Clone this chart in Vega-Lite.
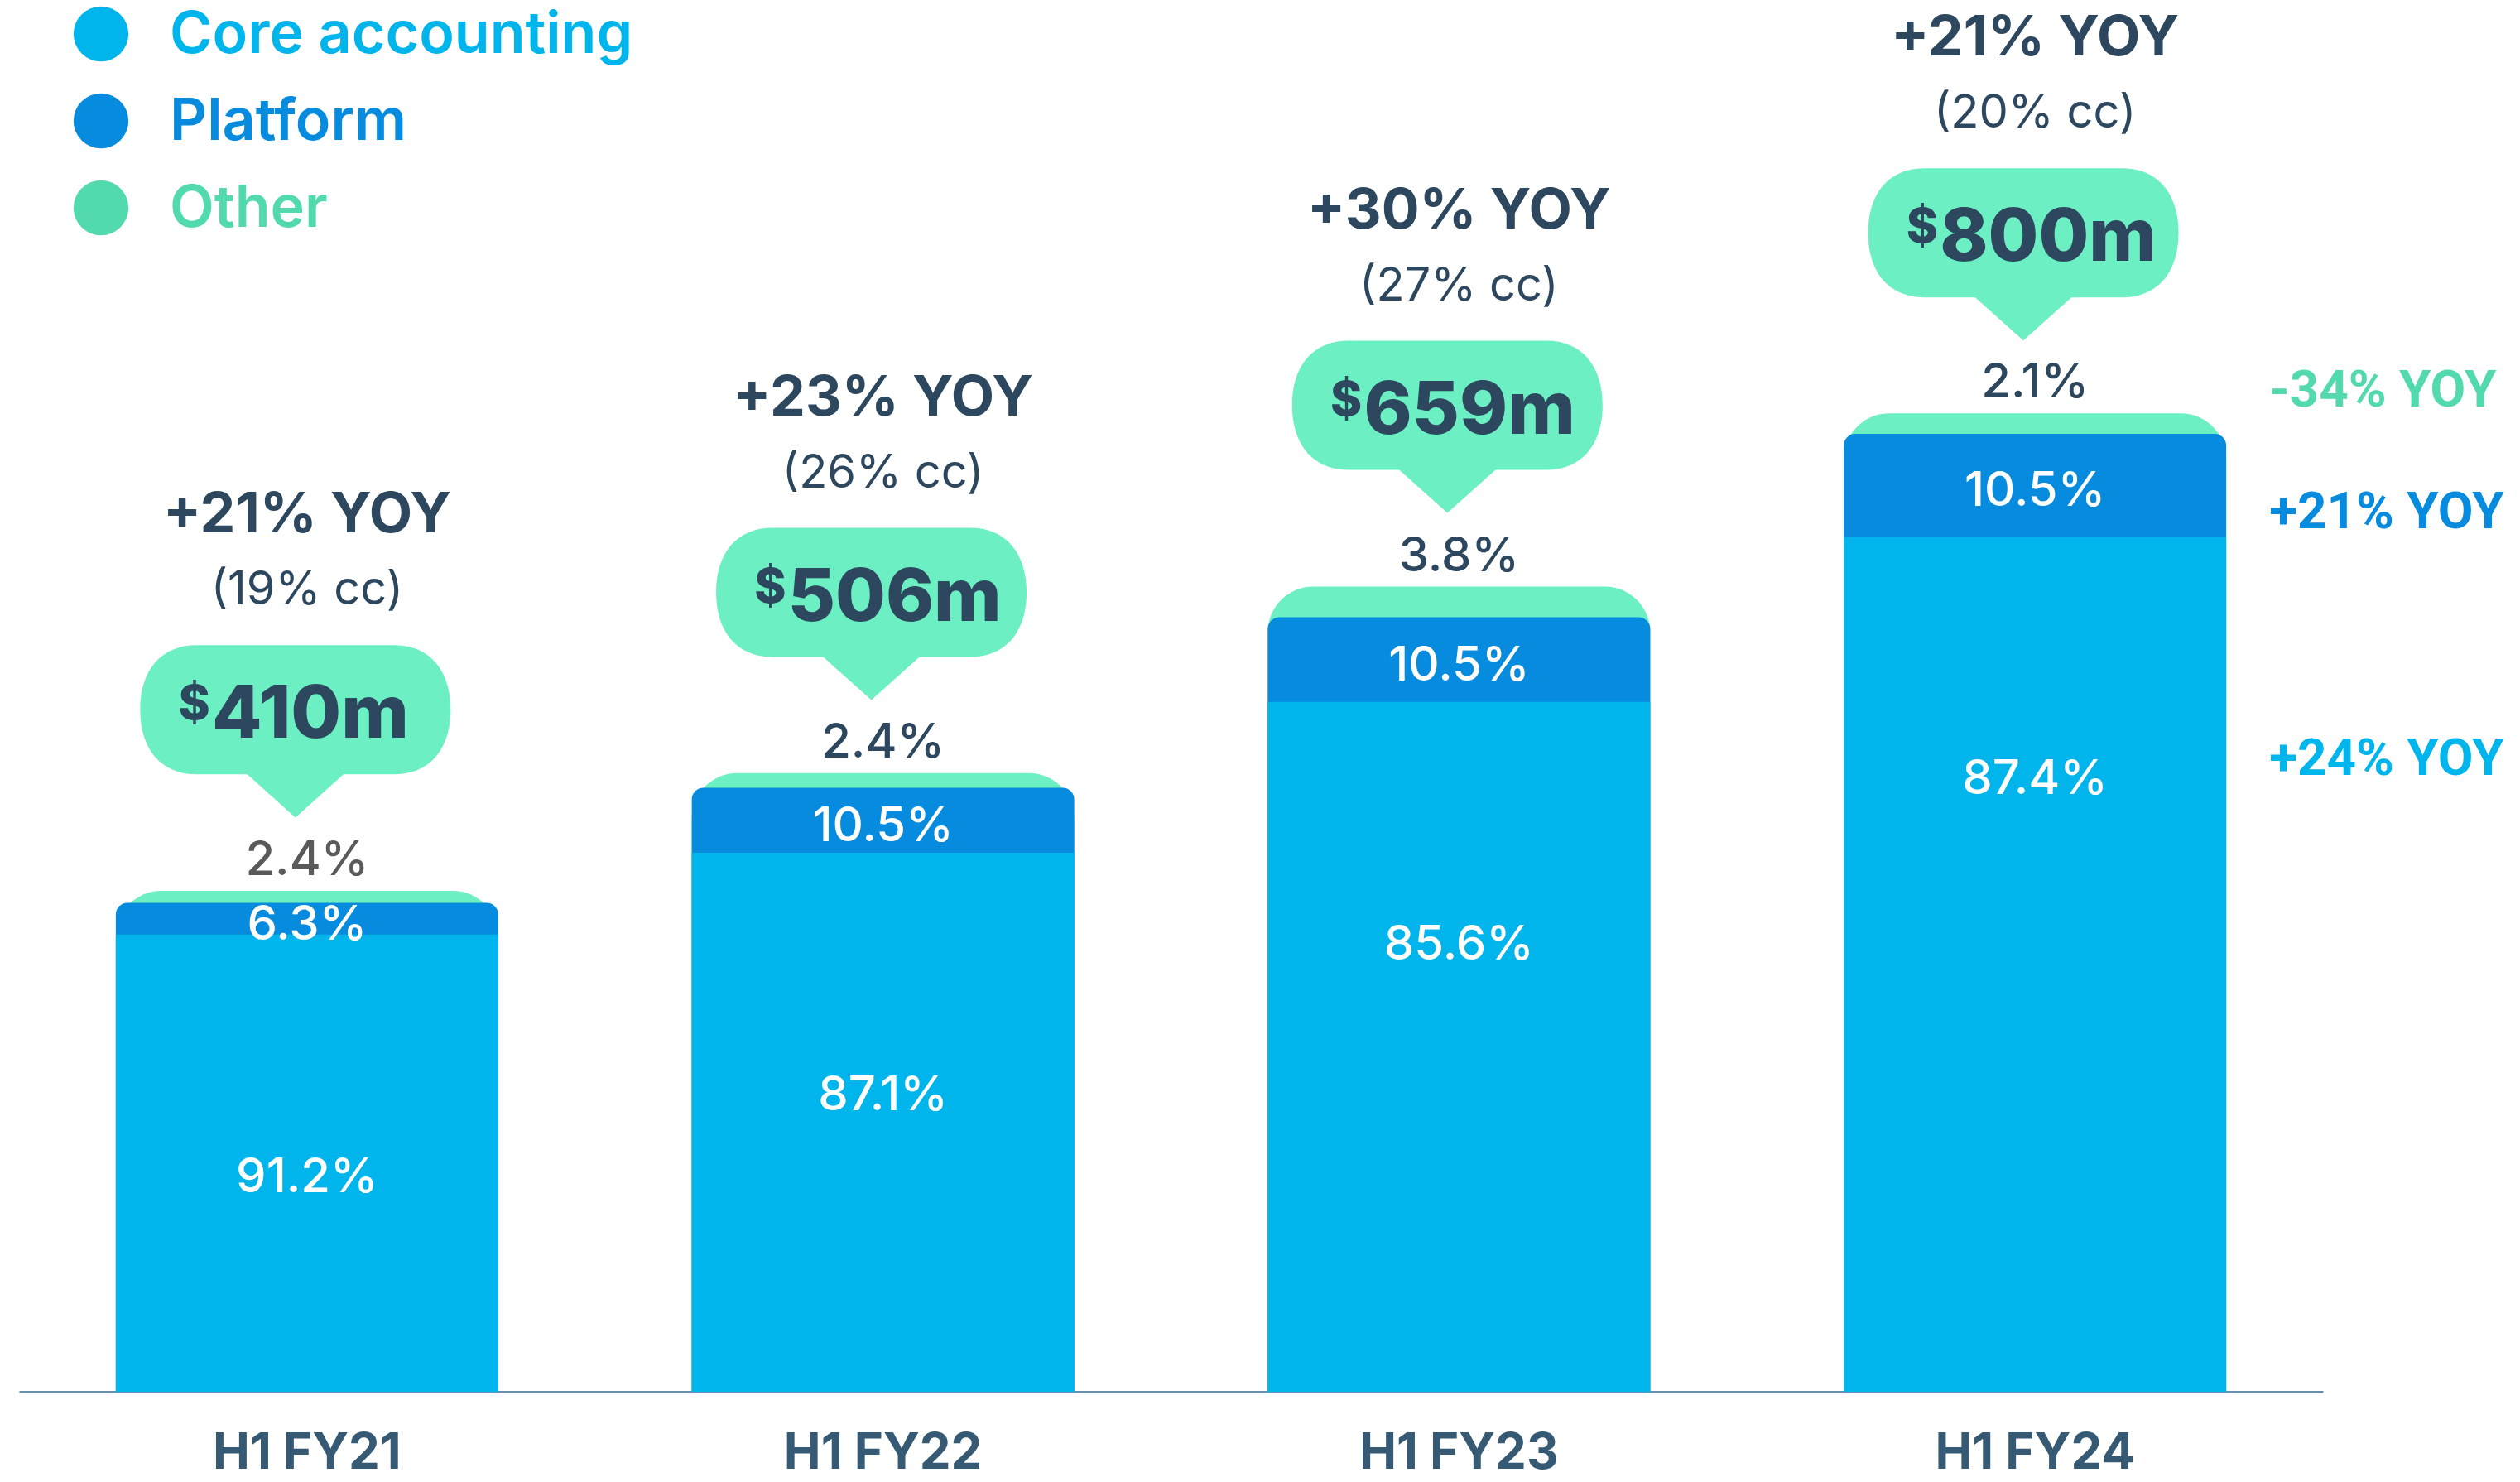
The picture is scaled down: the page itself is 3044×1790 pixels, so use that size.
{
  "$schema": "https://vega.github.io/schema/vega-lite/v6.json",
  "width": 2783,
  "height": 1681,
  "autosize": {"type": "none"},
  "padding": {"left": 23, "top": 0, "right": 238, "bottom": 109},
  "background": "white",
  "config": {
    "view": {"stroke": null},
    "font": "Inter",
    "text": {"font": "Inter"}
  },
  "datasets": {
    "segments": [
      {"period": "H1 FY21", "segment": "Core accounting", "order": 1, "value": 373.9, "pct": 0.912},
      {"period": "H1 FY21", "segment": "Platform", "order": 2, "value": 25.8, "pct": 0.063},
      {"period": "H1 FY21", "segment": "Other", "order": 3, "value": 9.8, "pct": 0.024},
      {"period": "H1 FY22", "segment": "Core accounting", "order": 1, "value": 440.7, "pct": 0.871},
      {"period": "H1 FY22", "segment": "Platform", "order": 2, "value": 53.1, "pct": 0.105},
      {"period": "H1 FY22", "segment": "Other", "order": 3, "value": 12.1, "pct": 0.024},
      {"period": "H1 FY23", "segment": "Core accounting", "order": 1, "value": 564.1, "pct": 0.856},
      {"period": "H1 FY23", "segment": "Platform", "order": 2, "value": 69.2, "pct": 0.105},
      {"period": "H1 FY23", "segment": "Other", "order": 3, "value": 25.0, "pct": 0.038},
      {"period": "H1 FY24", "segment": "Core accounting", "order": 1, "value": 699.2, "pct": 0.874, "seg_yoy": "+24% YOY"},
      {"period": "H1 FY24", "segment": "Platform", "order": 2, "value": 84.0, "pct": 0.105, "seg_yoy": "+21% YOY"},
      {"period": "H1 FY24", "segment": "Other", "order": 3, "value": 16.8, "pct": 0.021, "seg_yoy": "-34% YOY"}
    ],
    "totals": [
      {"period": "H1 FY21", "total": 410, "amount": "410m", "yoy": "+21% YOY", "cc": "(19% cc)"},
      {"period": "H1 FY22", "total": 506, "amount": "506m", "yoy": "+23% YOY", "cc": "(26% cc)"},
      {"period": "H1 FY23", "total": 659, "amount": "659m", "yoy": "+30% YOY", "cc": "(27% cc)"},
      {"period": "H1 FY24", "total": 800, "amount": "800m", "yoy": "+21% YOY", "cc": "(20% cc)"}
    ]
  },
  "encoding": {
    "x": {
      "field": "period",
      "type": "nominal",
      "title": null,
      "scale": {"paddingInner": 0.336, "paddingOuter": 0.168},
      "axis": {
        "labelAngle": 0,
        "ticks": false,
        "grid": false,
        "labelPadding": 45,
        "labelLimit": 1000,
        "labelFont": "Inter",
        "labelFontSize": 60,
        "labelFontWeight": 700,
        "labelColor": "#365A73",
        "domainColor": "#6B8FA8",
        "domainWidth": 3
      }
    }
  },
  "layer": [
    {
      "data": {"name": "segments"},
      "mark": {"type": "bar", "color": "#6DEFC4", "cornerRadiusTopLeft": 55, "cornerRadiusTopRight": 55},
      "encoding": {
        "y": {"aggregate": "sum", "field": "value", "type": "quantitative", "scale": {"domain": [0, 1138], "nice": false, "zero": true}, "axis": null}
      }
    },
    {
      "data": {"name": "segments"},
      "transform": [{"filter": "datum.segment !== 'Other'"}],
      "mark": {"type": "bar", "color": "#068BDE", "cornerRadiusTopLeft": 14, "cornerRadiusTopRight": 14},
      "encoding": {
        "y": {"aggregate": "sum", "field": "value", "type": "quantitative", "axis": null}
      }
    },
    {
      "data": {"name": "segments"},
      "transform": [{"filter": "datum.segment === 'Core accounting'"}],
      "mark": {"type": "bar"},
      "encoding": {
        "y": {"field": "value", "type": "quantitative", "axis": null},
        "color": {
          "field": "segment",
          "type": "nominal",
          "scale": {"domain": ["Core accounting", "Platform", "Other"], "range": ["#00B4EC", "#068BDE", "#52D9AE"]},
          "legend": {
            "orient": "none",
            "legendX": 64,
            "legendY": 6,
            "title": null,
            "direction": "vertical",
            "symbolType": "circle",
            "symbolSize": 4400,
            "symbolStrokeWidth": 0,
            "symbolOpacity": 1,
            "labelFont": "Inter",
            "labelFontSize": 70,
            "labelFontWeight": 600,
            "labelOffset": 48,
            "labelLimit": 1000,
            "rowPadding": 33,
            "padding": 0,
            "encode": {"labels": {"update": {"fill": {"signal": "scale('color', datum.value)"}, "dy": {"value": 2}}}}
          }
        }
      }
    },
    {
      "data": {"name": "segments"},
      "transform": [
        {"stack": "value", "groupby": ["period"], "sort": [{"field": "order"}], "as": ["v0", "v1"]},
        {"filter": "datum.segment === 'Other'"}
      ],
      "mark": {"type": "text", "fontSize": 58, "fontWeight": 500, "dy": -36},
      "encoding": {
        "y": {"field": "v1", "type": "quantitative", "axis": null},
        "text": {"field": "pct", "type": "quantitative", "format": ".1%"},
        "color": {"condition": {"test": "datum.period === 'H1 FY21'", "value": "#5A5A5A"}, "value": "#2C475E"}
      }
    },
    {
      "data": {"name": "segments"},
      "transform": [
        {"stack": "value", "groupby": ["period"], "sort": [{"field": "order"}], "as": ["v0", "v1"]},
        {"filter": "datum.segment === 'Platform'"},
        {"fold": ["v0", "v1"], "as": ["edge", "pos"]}
      ],
      "mark": {"type": "text", "fontSize": 58, "fontWeight": 500, "color": "white", "dy": 8},
      "encoding": {
        "y": {"aggregate": "mean", "field": "pos", "type": "quantitative", "axis": null},
        "text": {"field": "pct", "type": "quantitative", "format": ".1%"}
      }
    },
    {
      "data": {"name": "segments"},
      "transform": [{"filter": "datum.segment === 'Core accounting'"}],
      "mark": {"type": "text", "fontSize": 58, "fontWeight": 500, "color": "white", "dy": 294},
      "encoding": {
        "y": {"field": "value", "type": "quantitative", "axis": null},
        "text": {"field": "pct", "type": "quantitative", "format": ".1%"}
      }
    },
    {
      "data": {"name": "segments"},
      "transform": [
        {"stack": "value", "groupby": ["period"], "sort": [{"field": "order"}], "as": ["v0", "v1"]},
        {"filter": "datum.segment === 'Other' && isValid(datum.seg_yoy)"}
      ],
      "mark": {"type": "text", "font": "Roboto", "fontSize": 62, "fontWeight": 700, "color": "#52D9AE", "align": "left", "dx": 283, "dy": -27},
      "encoding": {
        "y": {"field": "v1", "type": "quantitative", "axis": null},
        "text": {"field": "seg_yoy", "type": "nominal"}
      }
    },
    {
      "data": {"name": "segments"},
      "transform": [
        {"stack": "value", "groupby": ["period"], "sort": [{"field": "order"}], "as": ["v0", "v1"]},
        {"filter": "datum.segment === 'Platform' && isValid(datum.seg_yoy)"}
      ],
      "mark": {"type": "text", "font": "Roboto", "fontSize": 62, "fontWeight": 700, "color": "#068BDE", "align": "left", "dx": 283, "dy": 95},
      "encoding": {
        "y": {"field": "v1", "type": "quantitative", "axis": null},
        "text": {"field": "seg_yoy", "type": "nominal"}
      }
    },
    {
      "data": {"name": "segments"},
      "transform": [{"filter": "datum.segment === 'Core accounting' && isValid(datum.seg_yoy)"}],
      "mark": {"type": "text", "font": "Roboto", "fontSize": 62, "fontWeight": 700, "color": "#00B4EC", "align": "left", "dx": 283, "dy": 269},
      "encoding": {
        "y": {"field": "value", "type": "quantitative", "axis": null},
        "text": {"field": "seg_yoy", "type": "nominal"}
      }
    },
    {
      "data": {"name": "totals"},
      "mark": {
        "type": "point",
        "filled": true,
        "opacity": 1,
        "strokeWidth": 0,
        "color": "#6DEFC4",
        "size": 140625,
        "shape": "M -0.712 -1.579 L 0.562 -1.579 C 0.787 -1.579 0.925 -1.421 0.925 -1.163 C 0.925 -0.905 0.787 -0.747 0.562 -0.747 L 0.235 -0.747 L -0.075 -0.469 L -0.385 -0.747 L -0.712 -0.747 C -0.937 -0.747 -1.075 -0.905 -1.075 -1.163 C -1.075 -1.421 -0.937 -1.579 -0.712 -1.579 Z"
      },
      "encoding": {
        "y": {"field": "total", "type": "quantitative", "axis": null}
      }
    },
    {
      "data": {"name": "totals"},
      "mark": {"type": "text", "fontSize": 58, "fontWeight": 800, "color": "#2C475E", "align": "right", "dx": -117, "dy": -223},
      "encoding": {
        "y": {"field": "total", "type": "quantitative", "axis": null},
        "text": {"value": "$"}
      }
    },
    {
      "data": {"name": "totals"},
      "mark": {"type": "text", "fontSize": 88, "fontWeight": 800, "color": "#2C475E", "align": "left", "dx": -115, "dy": -210},
      "encoding": {
        "y": {"field": "total", "type": "quantitative", "axis": null},
        "text": {"field": "amount", "type": "nominal"}
      }
    },
    {
      "data": {"name": "totals"},
      "mark": {"type": "text", "fontSize": 68, "fontWeight": 700, "color": "#2C475E", "dy": -452},
      "encoding": {
        "y": {"field": "total", "type": "quantitative", "axis": null},
        "text": {"field": "yoy", "type": "nominal"}
      }
    },
    {
      "data": {"name": "totals"},
      "mark": {"type": "text", "fontSize": 56, "fontWeight": 400, "color": "#2C475E", "dy": -362},
      "encoding": {
        "y": {"field": "total", "type": "quantitative", "axis": null},
        "text": {"field": "cc", "type": "nominal"}
      }
    }
  ]
}
